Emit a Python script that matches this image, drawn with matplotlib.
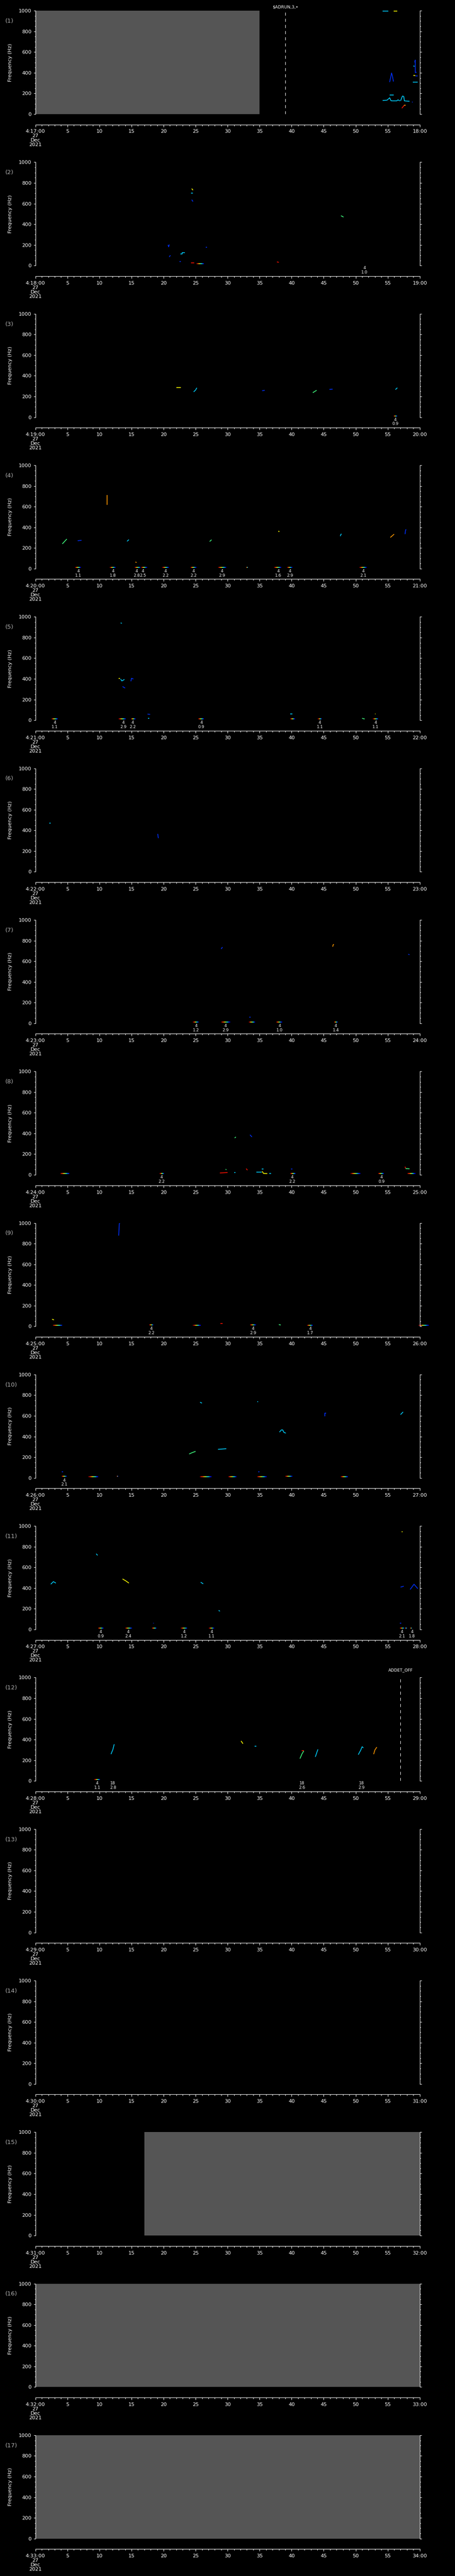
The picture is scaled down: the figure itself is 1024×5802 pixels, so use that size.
import numpy as np
import matplotlib
matplotlib.use("Agg")
import matplotlib.pyplot as plt
from matplotlib.collections import LineCollection
from matplotlib import transforms
from matplotlib.ticker import MultipleLocator

plt.rcParams['font.family'] = ['DejaVu Sans']
plt.rcParams['lines.scale_dashes'] = False

# ---------------- data ----------------
panel_minutes = list(range(17, 34))          # each panel = one minute after 4:00 UT
panel_labels = [f"({i + 1})" for i in range(17)]
date_lines = ["27", "Dec", "2021"]
freq_ticks = [0, 200, 400, 600, 800, 1000]
sec_ticks = list(range(0, 61, 5))

# grey (no data) intervals, seconds
gap_panel = [0, 14, 15, 16]
gap_start = [0, 17, 0, 0]
gap_end = [35, 60, 60, 60]

# dashed event markers
marker_panel = [0, 11]
marker_time = [39, 57]
marker_text = ["$ADRUN,3,\u2022", "ADDET_OFF"]

# spectral tracks: panel index, times (s), freqs (Hz), colour code
track_panel = []
track_time = []
track_freq = []
track_color = []


def trk(p, t, f, c):
    track_panel.append(p)
    track_time.append(t)
    track_freq.append(f)
    track_color.append(c)


# panel 1
trk(0, [54.2, 55.1], [997, 997], 'C')
trk(0, [55.9, 56.5], [997, 997], 'Y')
trk(0, [55.3, 55.6, 55.7, 55.9], [310, 398, 375, 315], 'B')
trk(0, [55.3, 55.9], [183, 183], 'C')
trk(0, [54.2, 54.9, 55.3, 55.5, 55.7, 56.4, 56.6, 56.9], [132, 135, 158, 130, 128, 128, 138, 128], 'C')
trk(0, [57.0, 57.3, 57.5, 57.6, 58.4], [128, 175, 170, 128, 124], 'C')
trk(0, [58.8, 58.9], [118, 115], 'B')
trk(0, [57.2, 57.4, 57.6], [57, 72, 86], 'R')
trk(0, [57.5, 57.8], [86, 86], 'O')
trk(0, [59.2, 59.3, 59.3, 59.5], [501, 523, 401, 405], 'B')
trk(0, [59.0, 59.2], [466, 462], 'C')
trk(0, [59.0, 59.3], [375, 372], 'Y')
trk(0, [59.3, 59.7], [370, 370], 'B')
trk(0, [58.9, 59.7], [311, 311], 'C')
# panel 2
trk(1, [24.4, 24.6], [745, 730], 'Y')
trk(1, [24.3, 24.6], [701, 701], 'C')
trk(1, [24.4, 24.6], [638, 620], 'B')
trk(1, [47.7, 48.1], [483, 470], 'G')
trk(1, [20.7, 20.8, 20.9], [200, 182, 204], 'B')
trk(1, [20.9, 21.0, 21.1], [84, 95, 98], 'B')
trk(1, [22.6, 22.9, 22.9, 23.3], [115, 115, 127, 127], 'C')
trk(1, [26.6, 26.8], [178, 178], 'B')
trk(1, [22.5, 22.7], [38, 38], 'B')
trk(1, [24.3, 24.8], [26, 26], 'R')
trk(1, [37.7, 38.0], [36, 32], 'R')
# panel 3
trk(2, [22.0, 22.7], [284, 284], 'Y')
trk(2, [24.7, 25.0, 25.2], [245, 262, 284], 'C')
trk(2, [35.4, 35.8], [256, 260], 'B')
trk(2, [43.3, 43.9], [237, 260], 'G')
trk(2, [45.9, 46.4], [268, 271], 'B')
trk(2, [56.2, 56.5], [267, 284], 'C')
# panel 4
trk(3, [4.2, 4.9], [240, 287], 'G')
trk(3, [6.6, 7.2], [271, 274], 'B')
trk(3, [11.2, 11.2], [619, 713], 'O')
trk(3, [14.3, 14.6], [265, 281], 'C')
trk(3, [27.2, 27.5], [263, 280], 'G')
trk(3, [37.9, 38.1], [362, 360], 'Y')
trk(3, [47.6, 47.7, 47.8], [315, 334, 334], 'C')
trk(3, [55.4, 56.0], [302, 334], 'O')
trk(3, [57.7, 57.8, 57.9], [334, 377, 377], 'B')
trk(3, [15.6, 15.8], [64, 60], 'O')
# panel 5
trk(4, [13.3, 13.5], [941, 938], 'C')
trk(4, [13.0, 13.2], [403, 403], 'Y')
trk(4, [13.3, 13.5, 13.9], [398, 380, 395], 'C')
trk(4, [14.9, 15.0, 15.3], [377, 406, 398], 'B')
trk(4, [13.6, 14.0], [326, 311], 'B')
trk(4, [17.5, 17.9], [59, 57], 'B')
trk(4, [17.6, 17.8], [17, 17], 'C')
trk(4, [39.8, 40.1], [59, 59], 'C')
trk(4, [51.0, 51.4], [18, 12], 'G')
trk(4, [53.0, 53.1], [59, 59], 'Y')
# panel 6
trk(5, [2.2, 2.4], [471, 471], 'C')
trk(5, [19.1, 19.15, 19.2], [366, 340, 325], 'B')
# panel 7
trk(6, [29.0, 29.2], [719, 737], 'B')
trk(6, [46.4, 46.5, 46.6], [741, 762, 762], 'O')
trk(6, [58.2, 58.4], [668, 664], 'B')
trk(6, [33.4, 33.6], [58, 58], 'B')
# panel 8
trk(7, [31.1, 31.3], [357, 366], 'G')
trk(7, [33.5, 33.6, 33.8], [387, 380, 366], 'B')
trk(7, [29.7, 29.8], [55, 48], 'G')
trk(7, [28.8, 30.0], [18, 22], 'R')
trk(7, [31.0, 31.2], [21, 21], 'C')
trk(7, [32.9, 33.1], [60, 45], 'R')
trk(7, [34.5, 35.3], [24, 24], 'C')
trk(7, [35.3, 35.6], [56, 56], 'C')
trk(7, [35.4, 35.6, 36.2], [34, 14, 12], 'Y')
trk(7, [36.5, 36.8], [15, 15], 'C')
trk(7, [39.9, 40.1], [58, 58], 'B')
trk(7, [57.7, 57.8], [79, 62], 'R')
trk(7, [57.8, 58.4], [60, 58], 'G')
# panel 9
trk(8, [13.0, 13.1, 13.2], [878, 995, 1000], 'B')
trk(8, [2.6, 2.9], [69, 62], 'Y')
trk(8, [28.9, 29.2], [27, 27], 'R')
trk(8, [38.0, 38.3], [17, 13], 'G')
# panel 10
trk(9, [25.7, 26.0], [732, 723], 'C')
trk(9, [34.6, 34.8], [739, 739], 'C')
trk(9, [45.2, 45.2, 45.4], [594, 625, 625], 'B')
trk(9, [57.0, 57.4], [612, 638], 'C')
trk(9, [38.1, 38.4, 38.6, 38.8, 39.1], [443, 464, 464, 440, 433], 'C')
trk(9, [24.0, 24.5, 25.0], [231, 245, 256], 'G')
trk(9, [28.5, 29.8], [276, 282], 'C')
trk(9, [4.1, 4.3], [58, 58], 'B')
trk(9, [34.8, 35.0], [58, 58], 'B')
# panel 11
trk(10, [2.4, 2.8, 3.2], [437, 462, 448], 'C')
trk(10, [9.5, 9.7], [732, 716], 'C')
trk(10, [13.6, 14.1, 14.6], [488, 470, 448], 'Y')
trk(10, [25.8, 26.2], [456, 441], 'C')
trk(10, [28.6, 28.8], [184, 176], 'C')
trk(10, [18.4, 18.5], [58, 58], 'B')
trk(10, [56.9, 57.1], [58, 58], 'B')
trk(10, [57.0, 57.5], [409, 418], 'B')
trk(10, [57.2, 57.3], [944, 944], 'Y')
trk(10, [58.5, 59.1, 59.7], [386, 437, 394], 'B')
# panel 12
trk(11, [11.8, 12.1, 12.3], [259, 305, 355], 'C')
trk(11, [32.1, 32.4], [387, 360], 'Y')
trk(11, [34.2, 34.5], [338, 338], 'C')
trk(11, [41.3, 41.6, 41.9], [216, 260, 291], 'G')
trk(11, [41.6, 41.9], [291, 291], 'R')
trk(11, [43.7, 43.9, 44.1], [233, 270, 305], 'C')
trk(11, [50.4, 50.8, 51.0, 51.2], [254, 300, 331, 320], 'C')
trk(11, [52.8, 53.0, 53.3], [259, 300, 327], 'O')

# low-frequency detections (rainbow streaks)
event_panel = [1, 2,
               3, 3, 3, 3, 3, 3, 3, 3, 3, 3, 3,
               4, 4, 4, 4, 4, 4, 4,
               6, 6, 6, 6, 6,
               7, 7, 7, 7, 7, 7,
               8, 8, 8, 8, 8, 8,
               9, 9, 9, 9, 9, 9, 9, 9,
               10, 10, 10, 10, 10, 10, 10, 10,
               11]
event_t0 = [25.1, 55.9,
            6.2, 11.6, 15.5, 16.5, 19.8, 24.2, 28.5, 32.9, 37.3, 39.3, 50.6,
            2.5, 13.0, 14.9, 25.4, 39.8, 44.1, 52.7,
            24.6, 29.0, 33.3, 37.6, 46.6,
            3.9, 19.4, 39.8, 49.2, 53.5, 58.1,
            2.7, 17.8, 24.6, 33.5, 42.4, 59.8,
            4.1, 8.3, 12.7, 25.7, 30.1, 34.6, 39.0, 47.7,
            9.8, 14.0, 18.2, 22.7, 27.1, 56.9, 57.7, 58.5,
            9.2]
event_t1 = [26.3, 56.5,
            7.1, 12.5, 16.4, 17.4, 20.8, 25.1, 29.8, 33.2, 38.4, 40.1, 51.7,
            3.5, 14.1, 15.6, 26.3, 40.5, 44.7, 53.5,
            25.5, 30.4, 34.3, 38.5, 47.2,
            5.3, 20.1, 40.6, 50.7, 54.4, 59.3,
            4.2, 18.4, 25.8, 34.4, 43.3, 61.4,
            4.9, 9.8, 12.9, 27.5, 31.4, 36.1, 40.1, 48.8,
            10.6, 15.1, 18.9, 23.7, 27.9, 57.6, 58.0, 58.8,
            10.1]
event_freq = [18, 13,
              12, 12, 14, 12, 13, 13, 13, 13, 12, 12, 13,
              12, 14, 14, 12, 12, 12, 12,
              12, 12, 12, 12, 12,
              12, 14, 14, 12, 12, 12,
              12, 15, 12, 15, 12, 12,
              15, 12, 14, 12, 12, 12, 14, 12,
              12, 12, 14, 12, 12, 14, 12, 12,
              16]

# detection notes (class / value)
note_panel = [1, 2,
              3, 3, 3, 3, 3, 3, 3, 3, 3, 3,
              4, 4, 4, 4, 4, 4,
              6, 6, 6, 6,
              7, 7, 7,
              8, 8, 8,
              9,
              10, 10, 10, 10, 10, 10,
              11, 11, 11, 11]
note_time = [51.4, 56.2,
             6.7, 12.1, 15.8, 16.8, 20.3, 24.7, 29.1, 37.9, 39.7, 51.2,
             3.0, 13.7, 15.2, 25.9, 44.4, 53.1,
             25.1, 29.7, 38.1, 46.9,
             19.7, 40.1, 54.0,
             18.1, 34.0, 42.9,
             4.5,
             10.2, 14.5, 23.2, 27.5, 57.2, 58.8,
             9.65, 12.1, 41.6, 50.9]
note_top = ["4", "4",
            "4", "4", "4", "4", "4", "4", "4", "4", "4", "4",
            "4", "4", "4", "4", "4", "4",
            "4", "4", "4", "4",
            "4", "4", "4",
            "4", "4", "4",
            "4",
            "4", "4", "4", "4", "4", "4",
            "4", "18", "18", "18"]
note_bottom = ["1.0", "0.9",
               "1.1", "1.8", "2.8", "2.5", "2.2", "2.2", "2.9", "1.6", "2.9", "2.1",
               "1.1", "2.9", "2.2", "0.9", "1.1", "1.1",
               "1.2", "2.9", "1.0", "1.4",
               "2.2", "2.2", "0.9",
               "2.2", "2.9", "1.7",
               "2.1",
               "0.9", "2.4", "1.2", "1.1", "2.1", "1.8",
               "1.1", "2.8", "2.6", "2.9"]

# ---------------- styling / layout ----------------
COLORS = {'B': '#0030ff', 'C': '#00d0ff', 'G': '#40ff80',
          'Y': '#ffff00', 'O': '#ff9900', 'R': '#ff1000'}
GRAY = '#555555'
W, H = 1024, 5802
PITCH = H / 17.0
AX_LEFT, AX_WIDTH = 79.7, 865.0
AX_TOP_OFF, AX_HEIGHT = 24.2, 232.8
FS = 8.2
marker_rise_px = [8.7, 17.0]

fig = plt.figure(figsize=(W / 100, H / 100), dpi=100, facecolor='black')

for i, m in enumerate(panel_minutes):
    top = i * PITCH + AX_TOP_OFF
    ax = fig.add_axes([AX_LEFT / W, 1 - (top + AX_HEIGHT) / H, AX_WIDTH / W, AX_HEIGHT / H])
    ax.set_facecolor('black')
    ax.set_xlim(0, 60)
    ax.set_ylim(0, 1000)

    for s in ['top']:
        ax.spines[s].set_visible(False)
    for s in ['left', 'right', 'bottom']:
        ax.spines[s].set_color('white')
        ax.spines[s].set_linewidth(0.8)
    ax.spines['bottom'].set_position(('outward', 17))

    ax.set_xticks(sec_ticks)
    xl = [f"4:{m:02d}:00\n" + "\n".join(date_lines)] + [str(s) for s in sec_ticks[1:-1]] + [f"{m + 1:02d}:00"]
    ax.set_xticklabels(xl, fontsize=FS, color='white', linespacing=1.0)
    ax.xaxis.set_minor_locator(MultipleLocator(1))
    ax.set_yticks(freq_ticks)
    ax.set_yticklabels([str(f) for f in freq_ticks], fontsize=FS, color='white')
    ax.yaxis.set_minor_locator(MultipleLocator(50))
    ax.tick_params(axis='x', which='major', direction='out', length=3.8, width=0.8,
                   color='white', pad=4)
    ax.tick_params(axis='x', which='minor', direction='out', length=2.2, width=0.8, color='white')
    ax.tick_params(axis='y', which='major', direction='out', length=3.0, width=0.8,
                   color='white', left=True, right=True, pad=3.5)
    ax.tick_params(axis='y', which='minor', direction='out', length=1.6, width=0.8,
                   color='white', left=True, right=True)

    ax.text((23 - AX_LEFT) / AX_WIDTH, 0.5, "Frequency (Hz)", transform=ax.transAxes,
            rotation=90, ha='center', va='center', color='white', fontsize=FS)
    ax.text((12 - AX_LEFT) / AX_WIDTH, 1 - 23.3 / AX_HEIGHT, panel_labels[i],
            transform=ax.transAxes, ha='left', va='center', color='#b0b0b0', fontsize=9.5)

    # no-data grey spans
    for gp, g0, g1 in zip(gap_panel, gap_start, gap_end):
        if gp == i:
            ax.axvspan(g0, g1, color=GRAY, lw=0, zorder=0.5)

    blend = transforms.blended_transform_factory(ax.transData, ax.transAxes)

    for mp, mt, mtx, rise in zip(marker_panel, marker_time, marker_text, marker_rise_px):
        if mp == i:
            ax.axvline(mt, color='white', lw=0.8, dashes=(5, 5), zorder=3)
            ax.text(mt, 1 + rise / AX_HEIGHT, mtx, transform=blend, ha='center', va='center',
                    color='white', fontsize=6.8, clip_on=False, parse_math=False)

    for tp, tt, tf, tc in zip(track_panel, track_time, track_freq, track_color):
        if tp == i:
            ax.plot(tt, tf, color=COLORS[tc], lw=1.2, solid_capstyle='butt', zorder=2)

    for ep, e0, e1, ef in zip(event_panel, event_t0, event_t1, event_freq):
        if ep == i:
            xs = np.linspace(e0, e1, 9)
            segs = [[(xs[k], ef), (xs[k + 1], ef)] for k in range(8)]
            cols = plt.cm.jet(np.linspace(0.97, 0.12, 8))
            lc = LineCollection(segs, colors=cols, linewidths=1.3, zorder=2, clip_on=False)
            ax.add_collection(lc)

    for np_, nt, ntop, nbot in zip(note_panel, note_time, note_top, note_bottom):
        if np_ == i:
            ax.text(nt, -5.5 / AX_HEIGHT, ntop, transform=blend, ha='center', va='center',
                    color='white', fontsize=6.6, clip_on=False)
            ax.text(nt, -15.3 / AX_HEIGHT, nbot, transform=blend, ha='center', va='center',
                    color='white', fontsize=6.6, clip_on=False)

fig.savefig('out.png', dpi=100, facecolor='black')
